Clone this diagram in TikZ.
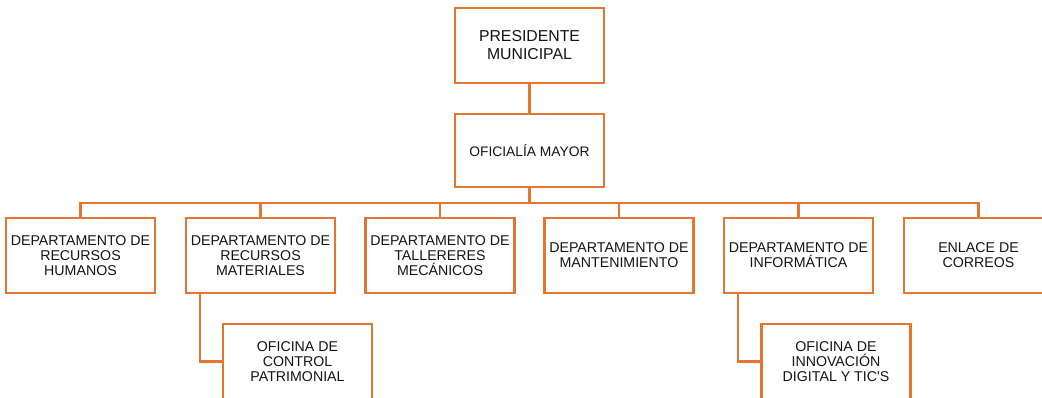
\documentclass[tikz,border=0pt]{standalone}
\usepackage{fontspec}
\setmainfont{Liberation Sans}[Ligatures=TeXOff]
\definecolor{org}{RGB}{226,118,50}
\definecolor{txt}{RGB}{20,20,20}
\begin{document}
\begin{tikzpicture}[x=1pt,y=-1pt,
  box/.style={draw=org, line width=2.2pt, fill=white, minimum width=149pt, minimum height=75pt, inner sep=0pt, align=center, text=txt, font=\fontsize{14.2}{15}\selectfont},
  link/.style={draw=org, line width=2.2pt}]
\useasboundingbox (0,0) rectangle (1042,398);
\clip (0,0) rectangle (1042,398);
\node[box, font=\fontsize{15.8}{18}\selectfont] (pres) at (529.5,45.5) {PRESIDENTE\\MUNICIPAL};
\node[box, minimum height=73pt, font=\fontsize{13.8}{15}\selectfont] (ofi) at (529.5,150.5) {OFICIALÍA MAYOR};
\node[box] (d1) at (80.5,255.5) {DEPARTAMENTO DE\\RECURSOS\\HUMANOS};
\node[box] (d2) at (260.5,255.5) {DEPARTAMENTO DE\\RECURSOS\\MATERIALES};
\node[box] (d3) at (440,255.5) {DEPARTAMENTO DE\\TALLERERES\\MECÁNICOS};
\node[box] (d4) at (619,255.5) {DEPARTAMENTO DE\\MANTENIMIENTO};
\node[box] (d5) at (798.5,255.5) {DEPARTAMENTO DE\\INFORMÁTICA};
\node[box] (d6) at (978.5,255.5) {ENLACE DE\\CORREOS};
\node[box] (o1) at (297.5,361.5) {OFICINA DE\\CONTROL\\PATRIMONIAL};
\node[box] (o2) at (836,361.5) {OFICINA DE\\INNOVACIÓN\\DIGITAL Y TIC'S};
\coordinate (bus) at (0,203);
\draw[link] (pres.south) -- (ofi.north);
\draw[link] (ofi.south) -- (ofi.south |- bus);
\draw[link] (d1.north) -- (d1.north |- bus) -- (d6.north |- bus) -- (d6.north);
\foreach \n in {d2,d3,d4,d5} \draw[link] (\n.north) -- (\n.north |- bus);
\draw[link] ([xshift=15pt]d2.south west) |- (o1.west);
\draw[link] ([xshift=15pt]d5.south west) |- (o2.west);
\end{tikzpicture}
\end{document}
